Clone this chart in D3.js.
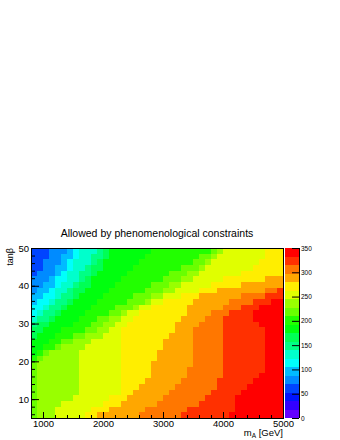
<!DOCTYPE html>
<html>
<head>
<meta charset="utf-8">
<script src="https://cdn.jsdelivr.net/npm/d3@7/dist/d3.min.js"></script>
<style>
  body { margin: 0; background: #fff; }
  svg { display: block; font-family: "Liberation Sans", Arial, sans-serif; }
</style>
</head>
<body>
<svg id="chart" width="340" height="440"></svg>
<script>

// bin edges of the histogram
var mAEdges = [800, 900, 1000, 1100, 1200, 1300, 1400, 1500, 1600, 1700, 1800, 1900, 2000, 2100, 2200,
               2300, 2400, 2500, 2600, 2700, 2800, 2900, 3000, 3100, 3200, 3300, 3400, 3500, 3600, 3700,
               3800, 3900, 4000, 4100, 4200, 4300, 4400, 4500, 4600, 4700, 4800, 4900, 5000];
var tbEdges = [5, 6.5, 8, 9.5, 11, 12.5, 14, 15.5, 17, 18.5, 20, 21.5, 23, 24.5, 26, 27.5, 29, 30.5,
               32, 33.5, 35, 36.5, 38, 39.5, 41, 42.5, 44, 45.5, 47, 48.5, 50];

// one string per tanb row, top (48.5-50) first; each char = contour band 0..J (base 20),
// band width 350/20, read from the palette colours
var zRows = [
  "3334445677789AAAAAAABBBBBBBBBBCDEEEEEEEFFF",
  "3334455677889AAAAAABBBBBBBBBCCDEEEEEEEEFFF",
  "334445677789AAAAAABBBBBBBBBCCDEEEEEEEEFFFF",
  "334455677899AAAAABBBBBBBBCCCDEEEEEEEEFFFFF",
  "34445677889AAAAABBBBBBBCCCDDEEEEEEEFFFFFFF",
  "4445667789AAAAABBBBBBBCCCDDEEEEEFFFFFFFGGG",
  "4455677899AAAABBBBBBCCCDDEEEEEFFFFFGGGGGGG",
  "455677899AAAABBBBBBCCCDDEEEEFFFGGGGGGGGHHI",
  "55667889AAAABBBBBCCCDDEEEFFFGGGGGGGHHHHIII",
  "5667889AAAABBBBBCCCDEEFFFFFGGGGGGHHHHIIIJJ",
  "667889AAAABBBBCCCDEEFFFFFFGGGGGGHHHIIIJJJJ",
  "67889AAAABBBBCCDEEFFFFFFFFGGGGHHHIIIIJJJJJ",
  "7889AAAABBBCCDDEEFFFFFFFFGGGGHHHIIIIIJJJJJ",
  "899AAAABBBCCDDEEFFFFFFFFGGGGHHHHIIIIIIJJJJ",
  "99AAABBBBCCDDEEFFFFFFFFFGGGHHHHHIIIIIIIJJJ",
  "9AAABBBCCDDDEEEFFFFFFFFGGGGHHHHHIIIIIIIJJJ",
  "AAABBCCDDDEEEEEFFFFFFFGGGGGHHHHHIIIIIIIJJJ",
  "AABBCDDDDEEEEEEFFFFFFFGGGGGHHHHHIIIIIIIJJJ",
  "ABCDDDDDEEEEEEEFFFFFFGGGGGGHHHHHIIIIIIIJJJ",
  "BCDDDDDDEEEEEEEFFFFFFGGGGGGHHHHHIIIIIIIJJJ",
  "CDDDDDDDEEEEEEEFFFFFGGGGGGGHHHHHIIIIIIIJJJ",
  "CDDDDDDDEEEEEEEFFFFFGGGGGGHHHHHHIIIIIIIJJJ",
  "CDDDDDDDEEEEEEEFFFFFGGGGGGHHHHHHIIIIIIJJJJ",
  "CDDDDDDDEEEEEEEFFFFGGGGGGHHHHHHIIIIIIJJJJJ",
  "CDDDDDDDEEEEEEEFFFGGGGGGHHHHHHHIIIIIJJJJJJ",
  "CDDDDDDDEEEEEEEFFGGGGGGHHHHHHHIIIIIJJJJJJJ",
  "CDDDDDDEEEEEEFFFGGGGGGHHHHHHHIIIIIJJJJJJJJ",
  "CDDDDEEEEEEEFFFGGGGGGHHHHHHHIIIIIIJJJJJJJJ",
  "CDDDEEEEEEFFFGGGGGGHHHHHHHIIIIIIIIJJJJJJJJ",
  "CDDDEEEEEFFGGGGGGGHHHHHHHIIIIIIIIJJJJJJJJJ"
];

var xTicks = [1000, 2000, 3000, 4000, 5000];
var yTicks = [10, 20, 30, 40, 50];
var zTicks = [0, 50, 100, 150, 200, 250, 300, 350];

var title = "Allowed by phenomenological constraints";

(function() {

var zMax = 350, nLevels = 20;

// plot frame
var fL = 31, fR = 283, fT = 248, fB = 418;

var svg = d3.select("#chart");

var x = d3.scaleLinear().domain([800, 5000]).range([fL, fR]);
var y = d3.scaleLinear().domain([5, 50]).range([fB, fT]);
var zAxisScale = d3.scaleLinear().domain([0, zMax]).range([fB, fT]);

// ROOT "pretty palette" (50 hues 280 -> 0), picked for 20 contours
var palette = d3.range(nLevels).map(function(k) {
    var i = Math.floor((k + 0.99) * 50 / nLevels);
    return d3.hsl(280 - (i + 1) * 5.6, 1, 0.5).formatHex();
});
var color = d3.scaleQuantize().domain([0, zMax]).range(palette);

var cells = [];
zRows.forEach(function(row, i) {
    var j = zRows.length - 1 - i;
    row.split("").forEach(function(ch, c) {
        cells.push({
            x0: mAEdges[c], x1: mAEdges[c + 1],
            y0: tbEdges[j], y1: tbEdges[j + 1],
            z: (parseInt(ch, 20) + 0.5) * zMax / nLevels
        });
    });
});

svg.append("g")
    .attr("shape-rendering", "crispEdges")
    .selectAll("rect")
    .data(cells)
    .enter()
    .append("rect")
    .attr("x", function(d) { return x(d.x0); })
    .attr("y", function(d) { return y(d.y1); })
    .attr("width", function(d) { return x(d.x1) - x(d.x0); })
    .attr("height", function(d) { return y(d.y0) - y(d.y1); })
    .attr("fill", function(d) { return color(d.z); });

// frame
svg.append("rect")
    .attr("x", fL).attr("y", fT)
    .attr("width", fR - fL).attr("height", fB - fT)
    .attr("fill", "none").attr("stroke", "#000").attr("stroke-width", 1)
    .attr("shape-rendering", "crispEdges");

function styleAxis(g) {
    g.select(".domain").remove();
    g.attr("font-family", null).attr("font-size", null);
    g.selectAll("line").attr("stroke", "#000");
    g.selectAll("text").attr("fill", "#000").style("font-size", "9.5px");
}

// x axis, ticks pointing into the frame
svg.append("g")
    .attr("transform", "translate(0," + fB + ")")
    .call(d3.axisBottom(x).tickValues(d3.range(800, 5001, 200)).tickSize(-3).tickFormat(""))
    .call(styleAxis);
svg.append("g")
    .attr("transform", "translate(0," + fB + ")")
    .call(d3.axisBottom(x).tickValues(xTicks).tickSize(-6).tickPadding(2.5).tickFormat(d3.format("d")))
    .call(styleAxis);

// y axis
svg.append("g")
    .attr("transform", "translate(" + fL + ",0)")
    .call(d3.axisLeft(y).tickValues(d3.range(6, 50.1, 2)).tickSize(-4).tickFormat(""))
    .call(styleAxis);
svg.append("g")
    .attr("transform", "translate(" + fL + ",0)")
    .call(d3.axisLeft(y).tickValues(yTicks).tickSize(-8).tickPadding(2).tickFormat(d3.format("d")))
    .call(styleAxis);

// colour bar
var barX = 285, barW = 14;
svg.append("g")
    .attr("shape-rendering", "crispEdges")
    .selectAll("rect")
    .data(palette)
    .enter()
    .append("rect")
    .attr("x", barX)
    .attr("y", function(d, k) { return zAxisScale((k + 1) * zMax / nLevels); })
    .attr("width", barW)
    .attr("height", function(d, k) { return zAxisScale(k * zMax / nLevels) - zAxisScale((k + 1) * zMax / nLevels); })
    .attr("fill", function(d) { return d; });

svg.append("g")
    .attr("transform", "translate(" + (barX + barW) + ",0)")
    .call(d3.axisRight(zAxisScale).tickValues(zTicks).tickSize(-7).tickPadding(2).tickFormat(d3.format("d")))
    .call(styleAxis)
    .call(function(g) { g.selectAll("text").style("font-size", "6.5px"); });
svg.append("line")
    .attr("x1", barX + barW).attr("x2", barX + barW)
    .attr("y1", fT).attr("y2", fB)
    .attr("stroke", "#000").attr("shape-rendering", "crispEdges");

// titles
svg.append("text")
    .attr("x", 157).attr("y", 237)
    .attr("text-anchor", "middle")
    .style("font-size", "10.5px")
    .text(title);

var xt = svg.append("text")
    .attr("x", fR).attr("y", 436)
    .attr("text-anchor", "end")
    .style("font-size", "9.5px");
xt.append("tspan").text("m");
xt.append("tspan").attr("dy", 2).style("font-size", "6.5px").text("A");
xt.append("tspan").attr("dy", -2).text(" [GeV]");

svg.append("text")
    .attr("transform", "translate(12.5," + fT + ") rotate(-90)")
    .attr("text-anchor", "end")
    .style("font-size", "9px")
    .text("tanβ");

})();

</script>
</body>
</html>
